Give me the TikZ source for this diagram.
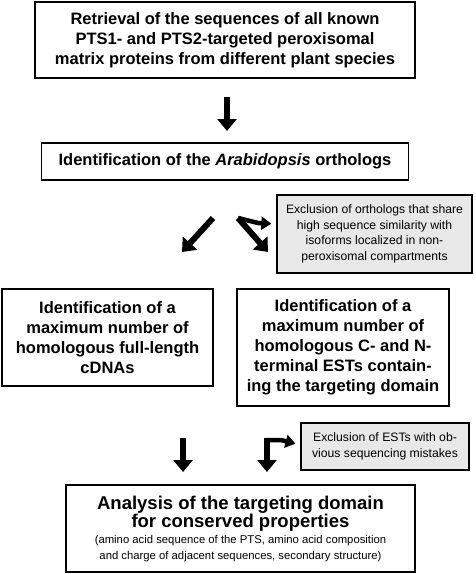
\documentclass[tikz,border=0pt]{standalone}
\usepackage{fontspec}
\setmainfont{Liberation Sans}
\usetikzlibrary{arrows.meta}
\begin{document}
\begin{tikzpicture}[x=1pt, y=-1pt,
    stepbox/.style = {draw, line width=1.8pt, align=center, inner sep=0pt,
        font=\fontsize{16.5}{20}\selectfont\bfseries},
    note/.style = {draw, line width=1.3pt, fill=gray!18, align=center, inner sep=0pt,
        font=\fontsize{12.2}{15.5}\selectfont},
    fat/.style = {line width=6pt, -{Triangle[width=19pt, length=12pt]}},
    side/.style = {line width=4.5pt, -{Triangle[width=13pt, length=10pt]}}]
    \useasboundingbox (0,0) rectangle (475,574);
    % riquadri del flusso

    \node[stepbox, minimum width=380, minimum height=76] (retr) at (225,40)
        {Retrieval of the sequences of all known\\PTS1- and PTS2-targeted peroxisomal\\matrix proteins from different plant species};
    \node[stepbox, minimum width=367, minimum height=37] (orth) at (225,161.5)
        {Identification of the \textit{Arabidopsis} orthologs};
    \node[note, minimum width=195, minimum height=78] (excl1) at (374.5,234)
        {Exclusion of orthologs that share\\high sequence similarity with\\isoforms localized in non-\\peroxisomal compartments};
    \node[stepbox, minimum width=211, minimum height=97] (cdna) at (107.5,337.5)
        {Identification of a\\maximum number of\\homologous full-length\\cDNAs};
    \node[stepbox, minimum width=212, minimum height=117] (ests) at (343,347.5)
        {Identification of a\\maximum number of\\homologous C- and N-\\terminal ESTs contain-\\ing the targeting domain};
    \node[note, minimum width=168, minimum height=47] (excl2) at (385,446.5)
        {Exclusion of ESTs with ob-\\vious sequencing mistakes};
    \node[stepbox, minimum width=349, minimum height=87] (anal) at (240.5,528.5)
        {\fontsize{18.5}{20}\selectfont Analysis of the targeting domain\\[-2pt]
        \fontsize{18.5}{20}\selectfont for conserved properties\\[-4pt]
        \fontsize{11.3}{15}\selectfont\mdseries (amino acid sequence of the PTS, amino acid composition\\[-4pt]
        \fontsize{11.3}{15}\selectfont\mdseries and charge of adjacent sequences, secondary structure)};

    \coordinate (a1) at (227,97);
    \coordinate (a2) at (227,131);
    \coordinate (l1) at (213,218);
    \coordinate (l2) at (182,252);
    \coordinate (r1) at (238,218);
    \coordinate (r2) at (268,252);
    \coordinate (c1) at (183,438);
    \coordinate (c2) at (183,472);
    \coordinate (e1) at (267,438);
    \coordinate (e2) at (267,472);

    \draw[fat] (a1) to (a2);
    \draw[fat] (l1) to (l2);
    \draw[fat] (r1) to (r2);
    \draw[side, shorten >=5pt] (r1) -- (258,223) -- (excl1.west |- 0,224);
    \draw[fat] (c1) to (c2);
    \draw[fat] (e1) to (e2);
    \draw[side, shorten >=5pt] (264.5,440) -- (281,440) -- (excl2.west |- 0,445);

\end{tikzpicture}
\end{document}
